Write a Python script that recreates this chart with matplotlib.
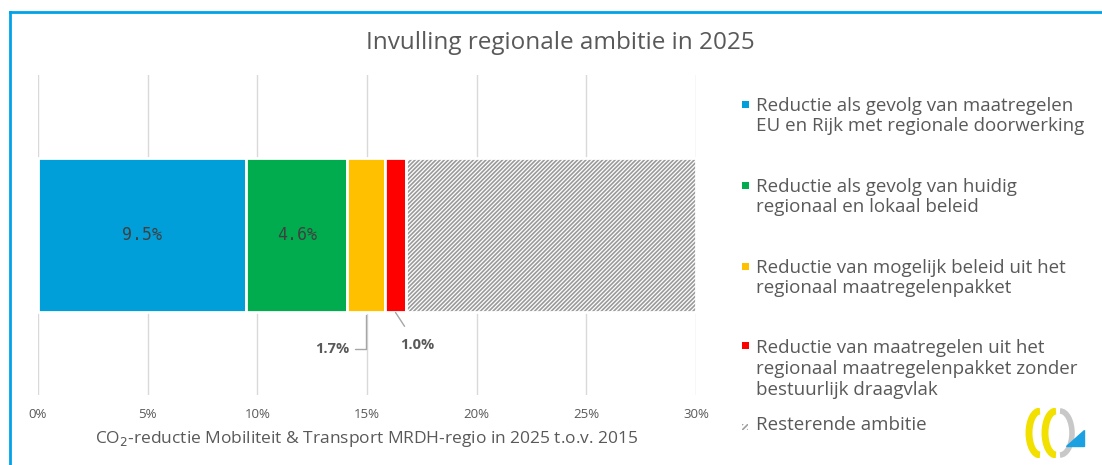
import numpy as np
import matplotlib.pyplot as plt
from matplotlib.patches import Rectangle, Polygon, Arc

# Data
values = [9.5, 4.6, 1.7, 1.0, 13.2]
value_labels = ['9.5%', '4.6%', '1.7%', '1.0%']
colors = ['#009fda', '#00ac4e', '#ffc000', '#ff0000', 'white']
legend_labels = [
    'Reductie als gevolg van maatregelen\nEU en Rijk met regionale doorwerking',
    'Reductie als gevolg van huidig\nregionaal en lokaal beleid',
    'Reductie van mogelijk beleid uit het\nregionaal maatregelenpakket',
    'Reductie van maatregelen uit het\nregionaal maatregelenpakket zonder\nbestuurlijk draagvlak',
    'Resterende ambitie',
]
ticks = [0, 5, 10, 15, 20, 25, 30]
tick_labels = ['0%', '5%', '10%', '15%', '20%', '25%', '30%']

plt.rcParams['font.family'] = ['Open Sans', 'DejaVu Sans']
plt.rcParams['hatch.linewidth'] = 1.2
grey = '#595959'

fig = plt.figure(figsize=(11.02, 4.65), dpi=100)
ax = fig.add_axes([38 / 1102, 1 - 395 / 465, (696 - 38) / 1102, 320 / 465])

# stacked horizontal bar
left = 0
bars = []
for i, (v, c) in enumerate(zip(values, colors)):
    if i == len(values) - 1:
        ax.barh(0, v, left=left, height=0.484, color='white', hatch='////////',
                edgecolor='#9a9a9a', linewidth=0, zorder=3)
        ax.barh(0, v, left=left, height=0.484, fill=False, edgecolor='white',
                linewidth=2, zorder=4)
    else:
        ax.barh(0, v, left=left, height=0.484, color=c, edgecolor='white',
                linewidth=2, zorder=3)
    bars.append((left, v))
    left += v

# labels inside
for i in range(2):
    l, v = bars[i]
    ax.text(l + v / 2, 0, value_labels[i], ha='center', va='center',
            fontsize=12, color='#404040', family='DejaVu Sans Mono', zorder=5)

# leader labels below
l, v = bars[2]
ax.annotate(value_labels[2], xy=(l + v / 2, -0.242), xytext=(l + v / 2 - 0.75, -0.355),
            ha='right', va='center', fontsize=10.5, fontweight='bold', color=grey,
            arrowprops=dict(arrowstyle='-', color='#a6a6a6', lw=1,
                            connectionstyle='angle,angleA=0,angleB=90,rad=0'))
l, v = bars[3]
ax.annotate(value_labels[3], xy=(l + v / 2, -0.242), xytext=(l + v / 2 + 0.2, -0.345),
            ha='left', va='center', fontsize=10.5, fontweight='bold', color=grey,
            arrowprops=dict(arrowstyle='-', color='#a6a6a6', lw=1, shrinkA=8, shrinkB=0))

ax.set_xlim(0, 30)
ax.set_ylim(-0.5, 0.5)
ax.set_xticks(ticks)
ax.set_xticklabels(tick_labels, fontsize=9.5, color=grey)
ax.set_yticks([])
ax.tick_params(axis='x', length=0, pad=9)
ax.grid(axis='x', color='#d9d9d9', lw=1, zorder=0)
for s in ax.spines.values():
    s.set_visible(False)
ax.set_xlabel('CO$_2$-reductie Mobiliteit & Transport MRDH-regio in 2025 t.o.v. 2015',
              fontsize=12.5, color=grey, labelpad=6)

fig.text(0.508, 1 - 43 / 465, 'Invulling regionale ambitie in 2025', ha='center',
         va='center', fontsize=17.5, color=grey)

# legend drawn by hand
legend_y = [116, 197, 278, 369, 425]
for lab, c, y, i in zip(legend_labels, colors, legend_y, range(5)):
    nlines = lab.count('\n') + 1
    ytop = y - (nlines - 1) * 24 / 2
    fy = 1 - ytop / 465
    if i == 4:
        sq = Rectangle((742 / 1102, fy - 0.010), 6 / 1102, 6 / 465, transform=fig.transFigure,
                       facecolor='white', hatch='//////', edgecolor='#a0a0a0', lw=0)
    else:
        sq = Rectangle((742 / 1102, fy - 0.008), 7 / 1102, 7 / 465, transform=fig.transFigure,
                       facecolor=c, lw=0)
    fig.patches.append(sq)
    fig.text(756 / 1102, 1 - y / 465, lab, ha='left', va='center', fontsize=13.5,
             color=grey, linespacing=1.2)

# border (top and left)
fig.add_artist(plt.Line2D([9.5 / 1102, 1], [1 - 12.5 / 465] * 2, color='#00a2e8', lw=2,
                          transform=fig.transFigure))
fig.add_artist(plt.Line2D([9.5 / 1102] * 2, [0, 1 - 12.5 / 465], color='#00a2e8', lw=2,
                          transform=fig.transFigure))

# small logo
lax = fig.add_axes([1018 / 1102, 1 - 458 / 465, 70 / 1102, 50 / 465])
lax.set_xlim(0, 70)
lax.set_ylim(0, 50)
lax.axis('off')
lax.add_patch(Arc((22, 25), 22, 44, theta1=90, theta2=270, color='#f2e000', lw=5))
lax.add_patch(Arc((38, 25), 22, 44, theta1=90, theta2=270, color='#f2e000', lw=5))
lax.add_patch(Arc((42, 25), 24, 44, theta1=-90, theta2=90, color='#c8c8c8', lw=4))
lax.add_patch(Polygon([[48, 12], [66, 12], [66, 28]], closed=True, color='#1ba1e2'))

fig.savefig('out.png', dpi=100)
